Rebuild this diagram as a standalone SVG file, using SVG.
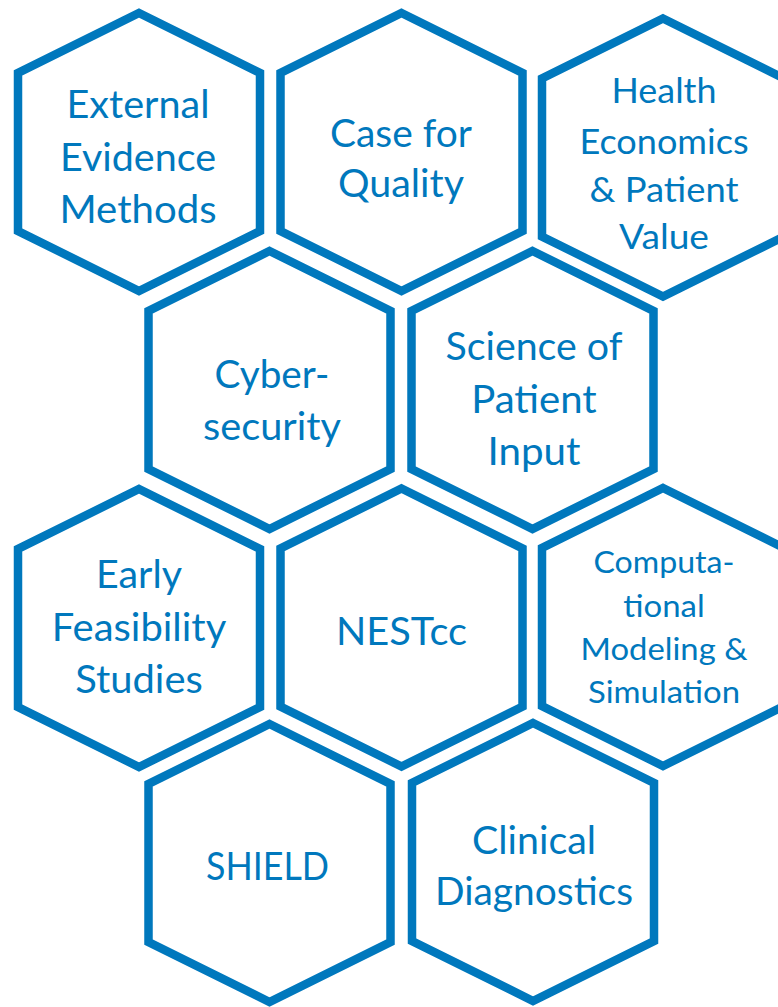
<svg xmlns="http://www.w3.org/2000/svg" xmlns:xlink="http://www.w3.org/1999/xlink" width="778" height="1007" viewBox="0 0 778 1007">
  <style>
    .hex { fill: #ffffff; stroke: #0078BD; stroke-width: 8.5; stroke-linejoin: miter; }
    .lbl { fill: #0078BD; font-family: "Lato", "Open Sans", "Liberation Sans", sans-serif; text-anchor: middle; }
    .l43 { font-size: 38.6px; }
    .l44 { font-size: 39.5px; }
    .l39 { font-size: 35px; }
    .l35 { font-size: 31.4px; }
  </style>
  <defs>
    <!-- pointy-top hexagon tile, centred on the origin -->
    <polygon id="hex" points="0,-139 121,-79 121,79 0,139 -121,79 -121,-79"/>
  </defs>
  <rect width="778" height="1007" fill="#ffffff"/>

  <g id="external-evidence-methods">
    <use xlink:href="#hex" href="#hex" class="hex" x="139" y="152"/>
    <text class="lbl l43" x="138" y="118" textLength="143" lengthAdjust="spacingAndGlyphs">External</text>
    <text class="lbl l43" x="138" y="171" textLength="156" lengthAdjust="spacingAndGlyphs">Evidence</text>
    <text class="lbl l43" x="138" y="223" textLength="157" lengthAdjust="spacingAndGlyphs">Methods</text>
  </g>

  <g id="case-for-quality">
    <use xlink:href="#hex" href="#hex" class="hex" x="401.5" y="152"/>
    <text class="lbl l43" x="401" y="146.5" textLength="142" lengthAdjust="spacingAndGlyphs">Case for</text>
    <text class="lbl l43" x="401" y="197" textLength="126" lengthAdjust="spacingAndGlyphs">Quality</text>
  </g>

  <g id="health-economics">
    <use xlink:href="#hex" href="#hex" class="hex" x="663" y="157.5"/>
    <text class="lbl l39" x="664" y="103" textLength="105" lengthAdjust="spacingAndGlyphs">Health</text>
    <text class="lbl l39" x="664" y="154" textLength="169" lengthAdjust="spacingAndGlyphs">Economics</text>
    <text class="lbl l39" x="664" y="201.5" textLength="149" lengthAdjust="spacingAndGlyphs">&amp; Patient</text>
    <text class="lbl l39" x="664" y="249" textLength="90" lengthAdjust="spacingAndGlyphs">Value</text>
  </g>

  <g id="cybersecurity">
    <use xlink:href="#hex" href="#hex" class="hex" x="269.5" y="390"/>
    <text class="lbl l43" x="272" y="388" textLength="115" lengthAdjust="spacingAndGlyphs">Cyber-</text>
    <text class="lbl l43" x="272" y="440" textLength="138" lengthAdjust="spacingAndGlyphs">security</text>
  </g>

  <g id="science-of-patient-input">
    <use xlink:href="#hex" href="#hex" class="hex" x="532.5" y="390"/>
    <text class="lbl l43" x="534" y="360" textLength="177" lengthAdjust="spacingAndGlyphs">Science of</text>
    <text class="lbl l43" x="534" y="413" textLength="125.5" lengthAdjust="spacingAndGlyphs">Patient</text>
    <text class="lbl l43" x="534" y="465" textLength="93" lengthAdjust="spacingAndGlyphs">Input</text>
  </g>

  <g id="early-feasibility-studies">
    <use xlink:href="#hex" href="#hex" class="hex" x="139" y="628"/>
    <text class="lbl l43" x="139" y="588" textLength="86" lengthAdjust="spacingAndGlyphs">Early</text>
    <text class="lbl l43" x="139" y="641" textLength="174.5" lengthAdjust="spacingAndGlyphs">Feasibility</text>
    <text class="lbl l43" x="139" y="693" textLength="127.5" lengthAdjust="spacingAndGlyphs">Studies</text>
  </g>

  <g id="nestcc">
    <use xlink:href="#hex" href="#hex" class="hex" x="401.5" y="627.5"/>
    <text class="lbl l44" x="401.5" y="645" textLength="131" lengthAdjust="spacingAndGlyphs">NESTcc</text>
  </g>

  <g id="computational-modeling">
    <use xlink:href="#hex" href="#hex" class="hex" x="663" y="627"/>
    <text class="lbl l35" x="664" y="573" textLength="141" lengthAdjust="spacingAndGlyphs">Computa-</text>
    <text class="lbl l35" x="664" y="616.5" textLength="81.5" lengthAdjust="spacingAndGlyphs">tional</text>
    <text class="lbl l35" x="664" y="660" textLength="167" lengthAdjust="spacingAndGlyphs">Modeling &amp;</text>
    <text class="lbl l35" x="664" y="703" textLength="152" lengthAdjust="spacingAndGlyphs">Simulation</text>
  </g>

  <g id="shield">
    <use xlink:href="#hex" href="#hex" class="hex" x="269.5" y="863"/>
    <text class="lbl l43" x="267.5" y="880" textLength="123" lengthAdjust="spacingAndGlyphs">SHIELD</text>
  </g>

  <g id="clinical-diagnostics">
    <use xlink:href="#hex" href="#hex" class="hex" x="533" y="862"/>
    <text class="lbl l43" x="534" y="854" textLength="124" lengthAdjust="spacingAndGlyphs">Clinical</text>
    <text class="lbl l43" x="534" y="905" textLength="198" lengthAdjust="spacingAndGlyphs">Diagnostics</text>
  </g>
</svg>
